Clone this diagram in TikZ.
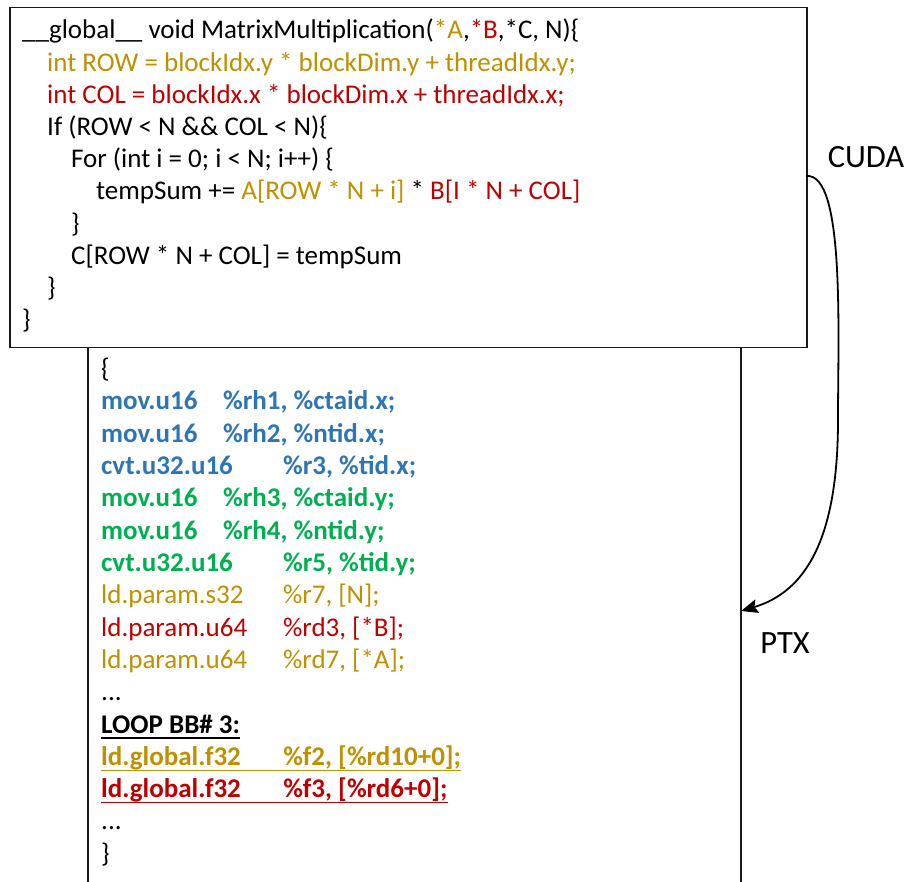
\documentclass[tikz,border=0pt]{standalone}
\usepackage{fontspec}
\setmainfont{Carlito}
\usetikzlibrary{arrows.meta}
\definecolor{cgold}{HTML}{BF9000}
\definecolor{cred}{HTML}{C00000}
\definecolor{cblue}{HTML}{2E75B6}
\definecolor{cgreen}{HTML}{00B050}
\tikzset{
  code/.style={anchor=base west, inner sep=0pt, font=\fontsize{27}{32}\selectfont},
  bcode/.style={code, font=\fontsize{27}{32}\selectfont\bfseries},
  lbl/.style={inner sep=0pt, font=\fontsize{32.5}{38}\selectfont},
  frame/.style={draw=black!90, line width=1.5pt},
}
\newcommand{\tA}[1]{\makebox[122pt][l]{#1}}
\newcommand{\tB}[1]{\makebox[182pt][l]{#1}}
\begin{document}
\begin{tikzpicture}[x=1pt,y=-1pt]
\useasboundingbox (0,0) rectangle (911,882);
% lower (PTX) box, open at the bottom
\draw[frame] (88,347) -- (88,885);
\draw[frame] (741,347) -- (741,885);
% upper (CUDA) box
\node[frame, fill=white, anchor=north west, inner sep=0pt, minimum width=797pt, minimum height=340pt] (cudabox) at (9,7) {};
% CUDA code
\node[code] (c1) at (22,39) {\_\_global\_\_ void MatrixMultiplication(\textcolor{cgold}{*A},\textcolor{cred}{*B},*C, N)\{};
\node[code, text=cgold] (c2) at (47,71.2) {int ROW = blockIdx.y * blockDim.y + threadIdx.y;};
\node[code, text=cred] (c3) at (47,103.4) {int COL = blockIdx.x * blockDim.x + threadIdx.x;};
\node[code] (c4) at (47,135.6) {If (ROW < N \&\& COL < N)\{};
\node[code] (c5) at (71,167.8) {For (int i = 0; i < N; i++) \{};
\node[code] (c6) at (96,200) {tempSum += \textcolor{cgold}{A[ROW * N + i]} * \textcolor{cred}{B[I * N + COL]}};
\node[code] (c7) at (71,232.2) {\}};
\node[code] (c8) at (71,264.4) {C[ROW * N + COL] = tempSum};
\node[code] (c9) at (47,296.6) {\}};
\node[code] (c10) at (22,328.8) {\}};
% PTX code
\node[code] (p0) at (101,377.7) {\{};
\node[bcode, text=cblue] (p1) at (101,410) {\tA{mov.u16}\%rh1, \%ctaid.x;};
\node[bcode, text=cblue] (p2) at (101,442.3) {\tA{mov.u16}\%rh2, \%ntid.x;};
\node[bcode, text=cblue] (p3) at (101,474.6) {\tB{cvt.u32.u16}\%r3, \%tid.x;};
\node[bcode, text=cgreen] (p4) at (101,506.9) {\tA{mov.u16}\%rh3, \%ctaid.y;};
\node[bcode, text=cgreen] (p5) at (101,539.2) {\tA{mov.u16}\%rh4, \%ntid.y;};
\node[bcode, text=cgreen] (p6) at (101,571.5) {\tB{cvt.u32.u16}\%r5, \%tid.y;};
\node[code, text=cgold] (p7) at (101,603.8) {\tB{ld.param.s32}\%r7, [N];};
\node[code, text=cred] (p8) at (101,636.1) {\tB{ld.param.u64}\%rd3, [*B];};
\node[code, text=cgold] (p9) at (101,668.4) {\tB{ld.param.u64}\%rd7, [*A];};
\node[code] (p10) at (101,700.7) {...};
\node[bcode] (p11) at (101,733) {LOOP BB\# 3:};
\node[bcode, text=cgold] (p12) at (101,765.3) {\tB{ld.global.f32}\%f2, [\%rd10+0];};
\node[bcode, text=cred] (p13) at (101,797.6) {\tB{ld.global.f32}\%f3, [\%rd6+0];};
\node[code] (p14) at (101,829.9) {...};
\node[code] (p15) at (101,862.2) {\}};
% underlines
\draw[black, line width=1.6pt] ([yshift=-5pt]p11.base west) -- ([yshift=-5pt]p11.base east);
\draw[cgold, line width=1.6pt] ([yshift=-5pt]p12.base west) -- ([yshift=-5pt]p12.base east);
\draw[cred, line width=1.6pt] ([yshift=-5pt]p13.base west) -- ([yshift=-5pt]p13.base east);
% labels
\node[lbl] (cudalbl) at (866,157) {CUDA};
\node[lbl] (ptxlbl) at (785,643) {PTX};
% arrow
\coordinate (a1) at (806,176);
\coordinate (a2) at (741,611);
\draw[line width=1.8pt, -{Stealth[length=17pt,width=14pt,inset=3pt]}]
  (a1) .. controls (845,172) and (838,330) .. (838,420)
       .. controls (838,540) and (805,592) .. (a2);
\end{tikzpicture}
\end{document}
